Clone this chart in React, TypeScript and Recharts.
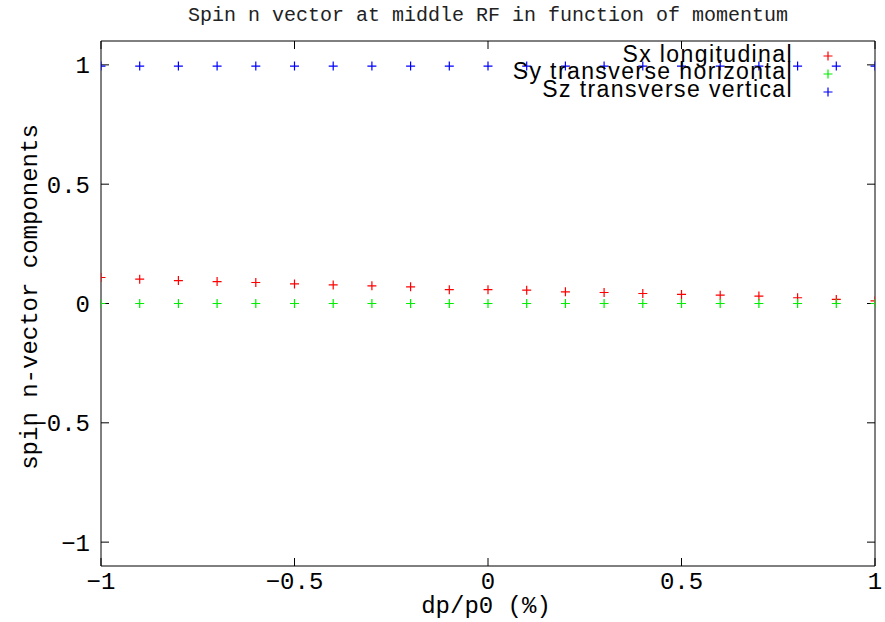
import React from 'react';
import { ScatterChart, Scatter, XAxis, YAxis } from 'recharts';

// dp/p0 (%) sample positions
const momentum = [-1, -0.9, -0.8, -0.7, -0.6, -0.5, -0.4, -0.3, -0.2, -0.1, 0, 0.1, 0.2, 0.3, 0.4, 0.5, 0.6, 0.7, 0.8, 0.9, 1];

// Spin n-vector components
const sxLongitudinal = [0.109, 0.102, 0.096, 0.092, 0.088, 0.082, 0.078, 0.074, 0.07, 0.058, 0.058, 0.056, 0.049, 0.046, 0.042, 0.038, 0.035, 0.031, 0.024, 0.017, 0.011];
const syTransverseHorizontal = [0, 0, 0, 0, 0, 0, 0, 0, 0, 0, 0, 0, 0, 0, 0, 0, 0, 0, 0, 0, 0];
const szTransverseVertical = [0.995, 0.995, 0.995, 0.995, 0.995, 0.995, 0.995, 0.995, 0.995, 0.995, 0.995, 0.995, 0.995, 0.995, 0.995, 0.995, 0.995, 0.995, 0.995, 0.995, 0.995];

const seriesNames = ['Sx longitudinal', 'Sy transverse horizontal', 'Sz transverse vertical'];
const seriesColors = ['#ff0000', '#00ee00', '#0000ff'];

const xTicks = [-1, -0.5, 0, 0.5, 1];
const yTicks = [-1, -0.5, 0, 0.5, 1];
const xDomain = [-1, 1];
const yDomain = [-1.1, 1.1];

const titleText = 'Spin n vector at middle RF in function of momentum';
const xTitle = 'dp/p0 (%)';
const yTitle = 'spin n-vector components';

const toPoints = (vals: number[]) => momentum.map((x, i) => ({ x, y: vals[i] }));

const fmt = (v: number) => (v < 0 ? '\u2212' + String(Math.abs(v)) : String(v));
const blank = () => '';

const makeCross = (color: string) => (props: any) => {
  const { cx, cy } = props;
  if (cx == null || cy == null) return <g />;
  return (
    <path
      d={`M${cx - 4.5},${cy}H${cx + 4.5}M${cx},${cy - 4.5}V${cy + 4.5}`}
      stroke={color}
      strokeWidth={1.2}
      fill="none"
    />
  );
};

const mono = '"Liberation Mono", "Courier New", monospace';
const sans = '"Liberation Sans", Arial, Helvetica, sans-serif';

export default function App() {
  const series = [sxLongitudinal, syTransverseHorizontal, szTransverseVertical];
  return (
    <div style={{ position: 'absolute', left: 0, top: 0, width: 885, height: 622, background: '#fff' }}>
      <ScatterChart width={885} height={622} margin={{ top: 31, right: 0, bottom: 0, left: 0 }}>
        <XAxis
          xAxisId="bottom"
          dataKey="x"
          type="number"
          domain={xDomain}
          ticks={xTicks}
          interval={0}
          allowDataOverflow
          height={56}
          tickSize={-8}
          tickMargin={14}
          tickFormatter={fmt}
          stroke="#000"
          tick={{ fill: '#000', fontSize: 24, fontFamily: mono }}
        />
        <XAxis
          xAxisId="top"
          dataKey="x"
          orientation="top"
          type="number"
          domain={xDomain}
          ticks={xTicks}
          interval={0}
          allowDataOverflow
          height={10}
          tickSize={-8}
          tickFormatter={blank}
          tick={{ fill: 'none', fontSize: 1 }}
          stroke="#000"
        />
        <YAxis
          yAxisId="left"
          dataKey="y"
          type="number"
          domain={yDomain}
          ticks={yTicks}
          interval={0}
          allowDataOverflow
          width={101}
          tickSize={-8}
          tickMargin={19}
          tickFormatter={fmt}
          stroke="#000"
          tick={{ fill: '#000', fontSize: 24, fontFamily: mono }}
        />
        <YAxis
          yAxisId="right"
          dataKey="y"
          orientation="right"
          type="number"
          domain={yDomain}
          ticks={yTicks}
          interval={0}
          allowDataOverflow
          width={10}
          tickSize={-8}
          tickFormatter={blank}
          tick={{ fill: 'none', fontSize: 1 }}
          stroke="#000"
        />
        {series.map((vals, i) => (
          <Scatter
            key={seriesNames[i]}
            name={seriesNames[i]}
            data={toPoints(vals)}
            xAxisId={i === 2 ? 'top' : 'bottom'}
            yAxisId={i === 2 ? 'right' : 'left'}
            fill={seriesColors[i]}
            shape={makeCross(seriesColors[i])}
            isAnimationActive={false}
          />
        ))}
      </ScatterChart>
      <svg
        width={885}
        height={622}
        style={{ position: 'absolute', left: 0, top: 0, pointerEvents: 'none' }}
      >
        <text x={488} y={21} textAnchor="middle" fontFamily={mono} fontSize={20} fill="#222">
          {titleText}
        </text>
        <text x={486} y={613} textAnchor="middle" fontFamily={mono} fontSize={24} fill="#000">
          {xTitle}
        </text>
        <text
          x={37}
          y={297}
          textAnchor="middle"
          fontFamily={mono}
          fontSize={24}
          fill="#000"
          transform="rotate(-90, 37, 297)"
        >
          {yTitle}
        </text>
        {seriesNames.map((name, i) => {
          const my = 56 + i * 18;
          return (
            <g key={name}>
              <text
                x={793}
                y={61.5 + i * 17.5}
                textAnchor="end"
                fontFamily={sans}
                fontSize={23}
                letterSpacing={1.4}
                fill="#000"
              >
                {name}
              </text>
              <path
                d={`M${828 - 4.5},${my}H${828 + 4.5}M${828},${my - 4.5}V${my + 4.5}`}
                stroke={seriesColors[i]}
                strokeWidth={1.2}
                fill="none"
              />
            </g>
          );
        })}
      </svg>
    </div>
  );
}
